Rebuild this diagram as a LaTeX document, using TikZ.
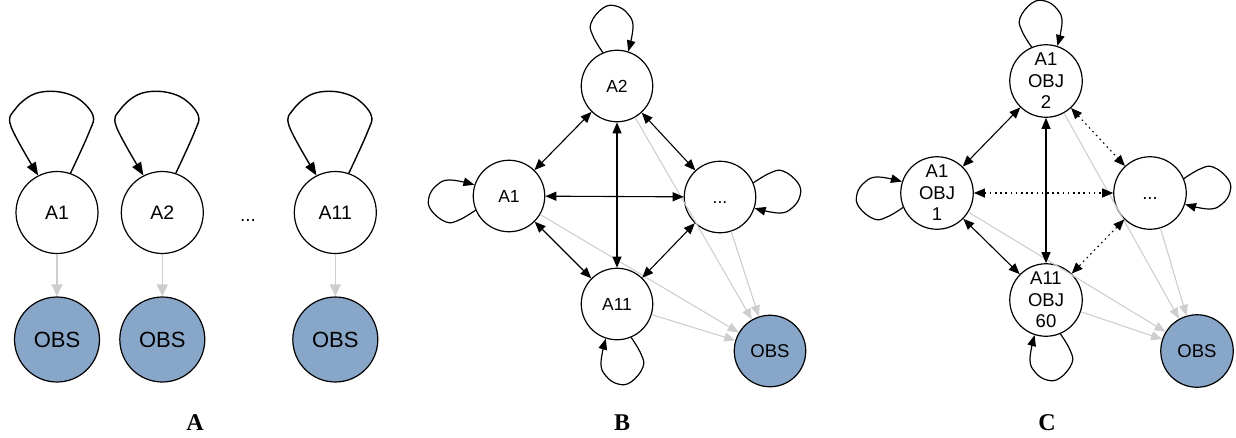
\documentclass[tikz,border=0pt]{standalone}
\usepackage{fontspec}
\setmainfont{Liberation Sans}
\newfontfamily\panelfont{Liberation Serif}
\usetikzlibrary{arrows.meta,calc}

\definecolor{obsblue}{RGB}{136,166,200}
\definecolor{emitgray}{RGB}{206,206,206}

% self loop for the small graphs: #1 node, #2 outward direction (degrees)
\newcommand\ringloop[2]{%
  \pgfmathtruncatemacro\loopstart{#2+23}%
  \pgfmathtruncatemacro\loopend{#2-18}%
  \begin{scope}[shift={(#1.center)}, rotate={#2-90}]
    \draw[selfloop] plot[smooth, tension=0.7] coordinates
      {(#1.\loopstart) (-24,-50) (-26,-63) (-14,-78) (-1,-80) (11,-72) (16,-59) (#1.\loopend)};
  \end{scope}}

% larger self loop above a chain node
\newcommand\chainloop[1]{%
  \begin{scope}[shift={(#1.center)}]
    \draw[selfloop, {-Triangle[length=13pt,width=10pt]}, line width=1.4pt]
      plot[smooth, tension=0.6] coordinates
      {(#1.71) (32,-80) (36,-97) (21,-114) (-1,-121) (-24,-118) (-42,-103) (-46,-86) (#1.117)};
  \end{scope}}

\begin{document}
\begin{tikzpicture}[x=1pt, y=-1pt,
  state/.style={circle, draw=black, fill=white, line width=1.2pt, inner sep=0pt,
                align=center, text=black},
  chainstate/.style={state, minimum size=82pt, font=\fontsize{19.5}{23}\selectfont},
  chainobs/.style={state, fill=obsblue, minimum size=85pt, font=\fontsize{22}{26}\selectfont},
  ringstate/.style={state, minimum size=71.5pt, font=\fontsize{17.5}{21}\selectfont},
  ringobs/.style={state, fill=obsblue, minimum size=71.5pt, font=\fontsize{18.5}{22}\selectfont},
  objstate/.style={state, minimum size=72.5pt, font=\fontsize{18.5}{21.5}\selectfont},
  selfloop/.style={draw=black, line width=1.2pt, -{Triangle[length=11pt,width=8.5pt]}},
  link/.style={draw=black, line width=1.1pt,
               {Triangle[length=11pt,width=9pt]}-{Triangle[length=11pt,width=9pt]}},
  dotlink/.style={link, dash pattern=on 1.6pt off 3.6pt},
  emit/.style={draw=emitgray, line width=1.1pt, -{Triangle[length=11pt,width=9pt]}},
  chainemit/.style={draw=emitgray, line width=1.3pt, -{Triangle[length=12pt,width=11pt]}},
  panellabel/.style={font=\panelfont\bfseries\fontsize{24}{28}\selectfont, inner sep=0pt}
]
\useasboundingbox (0,0) rectangle (1236,437);

% ---------- A: independent chains ----------
\node[chainstate] (ca1) at (57,212.5) {A1};
\node[chainstate] (ca2) at (162.3,212.5) {A2};
\node[chainstate] (ca11) at (335.3,212.5) {A11};
\node[font=\fontsize{19}{23}\selectfont, inner sep=0pt] (cdots) at (248,220) {...};
\node[chainobs] (co1) at (57,339.5) {OBS};
\node[chainobs] (co2) at (162.3,339.5) {OBS};
\node[chainobs] (co11) at (335.3,339.5) {OBS};

\chainloop{ca1}
\chainloop{ca2}
\chainloop{ca11}
\draw[chainemit] (ca1) -- (co1);
\draw[chainemit] (ca2) -- (co2);
\draw[chainemit] (ca11) -- (co11);

\node[panellabel] (labA) at (195,423) {A};

% ---------- B: coupled agents ----------
\node[ringstate] (b2) at (617,86) {A2};
\node[ringstate] (b1) at (509,196) {A1};
\node[ringstate] (bd) at (720,197) {\vphantom{A}...};
\node[ringstate] (b11) at (617,304) {A11};
\node[ringobs] (bo) at (770,351) {OBS};

\ringloop{b2}{90}
\ringloop{b1}{180}
\ringloop{bd}{0}
\ringloop{b11}{270}

\draw[emit] (b2) -- (bo);
\draw[emit] (b1) -- (bo);
\draw[emit] (bd) -- (bo);
\draw[emit] (b11) -- (bo);

\draw[link] (b2) -- (b1);
\draw[link] (b2) -- (bd);
\draw[link] (b2) -- (b11);
\draw[link] (b1) -- (bd);
\draw[link] (b1) -- (b11);
\draw[link] (bd) -- (b11);

\node[panellabel] (labB) at (622,423) {B};

% ---------- C: agent-object pairs ----------
\node[objstate] (c2) at (1046,81) {A1\\OBJ\\2};
\node[objstate] (c1) at (937,193) {A1\\OBJ\\1};
\node[objstate] (cd) at (1150,193) {\vphantom{A}...};
\node[objstate] (c60) at (1046,300) {A11\\OBJ\\60};
\node[ringobs, minimum size=72.5pt] (cobs) at (1197,351) {OBS};

\ringloop{c2}{90}
\ringloop{c1}{180}
\ringloop{cd}{0}
\ringloop{c60}{270}

\draw[emit] (c2) -- (cobs);
\draw[emit] (c1) -- (cobs);
\draw[emit] (cd) -- (cobs);
\draw[emit] (c60) -- (cobs);

\draw[link] (c2) -- (c1);
\draw[link] (c2) -- (c60);
\draw[link] (c1) -- (c60);
\draw[dotlink] (c2) -- (cd);
\draw[dotlink] (c1) -- (cd);
\draw[dotlink] (cd) -- (c60);

\node[panellabel] (labC) at (1047,423) {C};
\end{tikzpicture}
\end{document}
